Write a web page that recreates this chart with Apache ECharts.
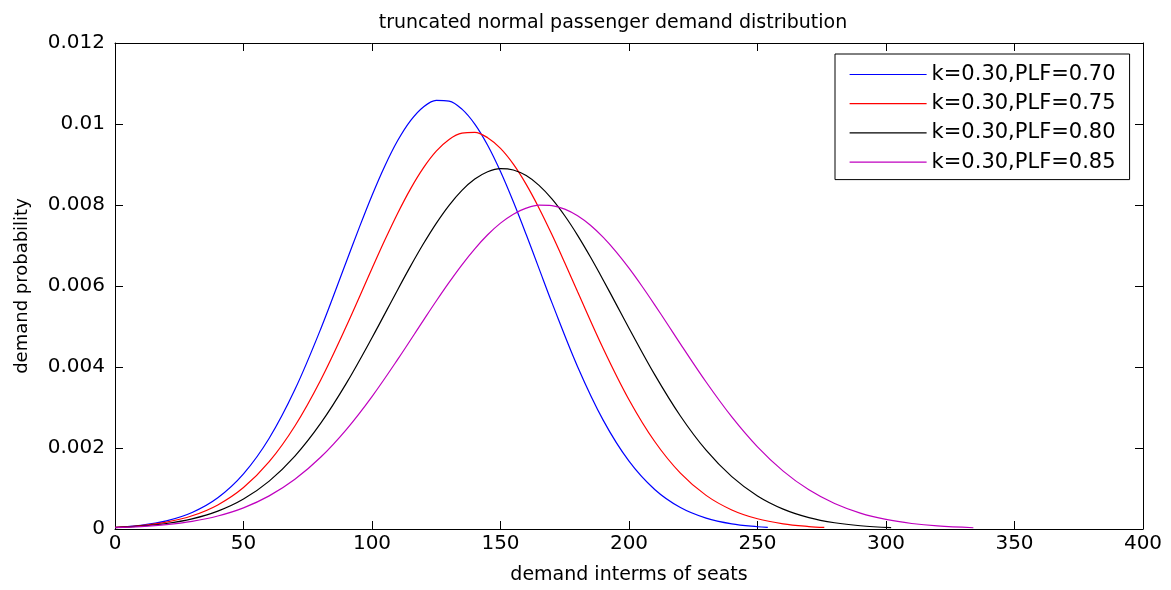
<!DOCTYPE html>
<html>
<head>
<meta charset="utf-8">
<script src="https://cdn.jsdelivr.net/npm/echarts@6/dist/echarts.min.js"></script>
<style>
  html, body { margin: 0; padding: 0; background: #fff; }
  #chart { width: 1171px; height: 590px; }
</style>
</head>
<body>
<div id="chart"></div>
<script>
// values (seats -> probability), denser around the peaks
const seatsPlf70 = [0, 10, 20, 30, 40, 50, 60, 70, 80, 90, 95, 100, 105, 110, 115, 120, 125, 130, 135, 140, 145, 150, 155, 160, 165, 170, 180, 190, 200, 210, 220, 230, 240, 250, 254]
const probPlf70 = [0.00004, 0.000093, 0.000201, 0.000408, 0.000771, 0.001361, 0.002241, 0.003442, 0.004932, 0.006599, 0.007435, 0.008235, 0.008964, 0.009591, 0.010084, 0.010422, 0.010585, 0.010567, 0.010368, 0.009998, 0.009475, 0.008826, 0.008079, 0.007271, 0.006429, 0.005589, 0.004008, 0.002682, 0.001675, 0.000976, 0.00053, 0.000269, 0.000127, 0.000056, 0.00004]

const seatsPlf75 = [0, 10, 20, 30, 40, 50, 60, 70, 80, 90, 100, 105, 110, 115, 120, 125, 130, 135, 140, 145, 150, 155, 160, 165, 170, 175, 180, 190, 200, 210, 220, 230, 240, 250, 260, 270, 276]
const probPlf75 = [0.000038, 0.000082, 0.000169, 0.000326, 0.000595, 0.001024, 0.001661, 0.002543, 0.003673, 0.005004, 0.006431, 0.007133, 0.007797, 0.008399, 0.008916, 0.009329, 0.009619, 0.009774, 0.009794, 0.009661, 0.009397, 0.009008, 0.008509, 0.007922, 0.00727, 0.006574, 0.005858, 0.004453, 0.003193, 0.00216, 0.001379, 0.00083, 0.000471, 0.000252, 0.000128, 0.000061, 0.000038]

const seatsPlf80 = [0, 10, 20, 30, 40, 50, 60, 70, 80, 90, 100, 110, 115, 120, 125, 130, 135, 140, 145, 150, 155, 160, 165, 170, 175, 180, 185, 190, 195, 200, 210, 220, 230, 240, 250, 260, 270, 280, 290, 302]
const probPlf80 = [0.000034, 0.00007, 0.000136, 0.000251, 0.000442, 0.000741, 0.001183, 0.001799, 0.002606, 0.003595, 0.004722, 0.005909, 0.00649, 0.007042, 0.007548, 0.007993, 0.008362, 0.008641, 0.008822, 0.0089, 0.008865, 0.008726, 0.008485, 0.008151, 0.007734, 0.007251, 0.006715, 0.006144, 0.005553, 0.004958, 0.003811, 0.00279, 0.001945, 0.001292, 0.000817, 0.000492, 0.000282, 0.000154, 0.00008, 0.000034]

const seatsPlf85 = [0, 10, 20, 30, 40, 50, 60, 70, 80, 90, 100, 110, 120, 125, 130, 135, 140, 145, 150, 155, 160, 165, 170, 175, 180, 185, 190, 195, 200, 205, 210, 215, 220, 230, 240, 250, 260, 270, 280, 290, 300, 310, 320, 334]
const probPlf85 = [0.000031, 0.000059, 0.000108, 0.00019, 0.000322, 0.000523, 0.000818, 0.001228, 0.001771, 0.002456, 0.003271, 0.004188, 0.005152, 0.00563, 0.00609, 0.006524, 0.006918, 0.007265, 0.007552, 0.007774, 0.007922, 0.007997, 0.007986, 0.007899, 0.007735, 0.0075, 0.0072, 0.006843, 0.00644, 0.006, 0.005535, 0.005055, 0.004571, 0.003629, 0.002767, 0.002028, 0.001429, 0.000967, 0.000629, 0.000393, 0.000236, 0.000136, 0.000076, 0.000031]

const legendNames = ['k=0.30,PLF=0.70', 'k=0.30,PLF=0.75', 'k=0.30,PLF=0.80', 'k=0.30,PLF=0.85']
const lineColors = ['#0000ff', '#ff0000', '#000000', '#bf00bf']

const font = 'DejaVu Sans'

const zip = (xs, ys) => xs.map((x, i) => [x, ys[i]])
const allSeries = [
  zip(seatsPlf70, probPlf70),
  zip(seatsPlf75, probPlf75),
  zip(seatsPlf80, probPlf80),
  zip(seatsPlf85, probPlf85)
]

// matlab style box: lines on all four sides, ticks pointing in
const boxAxis = {
  axisLine: { show: true, onZero: false, lineStyle: { color: '#000', width: 1 } },
  axisTick: { show: true, inside: true, length: 8, lineStyle: { color: '#000' } },
  splitLine: { show: false }
}

const chart = echarts.init(document.getElementById('chart'))
chart.setOption({
  backgroundColor: '#fff',
  animation: false,
  title: {
    text: 'truncated normal passenger demand distribution',
    left: 608,
    top: 9,
    textAlign: 'center',
    textStyle: { fontFamily: font, fontSize: 19, fontWeight: 'normal', color: '#000' }
  },
  legend: {
    orient: 'vertical',
    left: 835,
    top: 54,
    padding: [10, 14, 7, 14],
    itemWidth: 77,
    itemHeight: 20,
    itemGap: 8.2,
    borderColor: '#000',
    borderWidth: 1,
    backgroundColor: '#fff',
    itemStyle: { opacity: 0 },
    lineStyle: { opacity: 1, width: 1.2 },
    textStyle: { fontFamily: font, fontSize: 21, color: '#000', lineHeight: 20 },
    data: legendNames
  },
  grid: { left: 115, right: 28, top: 43, bottom: 60 },
  xAxis: [
    Object.assign({
      type: 'value', min: 0, max: 400, interval: 50,
      name: 'demand interms of seats',
      nameLocation: 'middle',
      nameGap: 37,
      nameTextStyle: { fontFamily: font, fontSize: 19, color: '#000' },
      axisLabel: { fontFamily: font, fontSize: 20, color: '#000', margin: 5 }
    }, boxAxis),
    Object.assign({
      type: 'value', min: 0, max: 400, interval: 50, position: 'top',
      axisLabel: { show: false }
    }, boxAxis)
  ],
  yAxis: [
    Object.assign({
      type: 'value', min: 0, max: 0.012, interval: 0.002,
      name: 'demand probability',
      nameLocation: 'middle',
      nameGap: 84,
      nameTextStyle: { fontFamily: font, fontSize: 18, color: '#000' },
      axisLabel: { fontFamily: font, fontSize: 20, color: '#000', margin: 10 }
    }, boxAxis),
    Object.assign({
      type: 'value', min: 0, max: 0.012, interval: 0.002, position: 'right',
      axisLabel: { show: false }
    }, boxAxis)
  ],
  series: allSeries.map((pts, i) => ({
    name: legendNames[i],
    type: 'line',
    data: pts,
    smooth: 0.35,
    symbol: 'none',
    lineStyle: { color: lineColors[i], width: 1.2 },
    itemStyle: { color: lineColors[i] }
  }))
})
</script>
</body>
</html>
